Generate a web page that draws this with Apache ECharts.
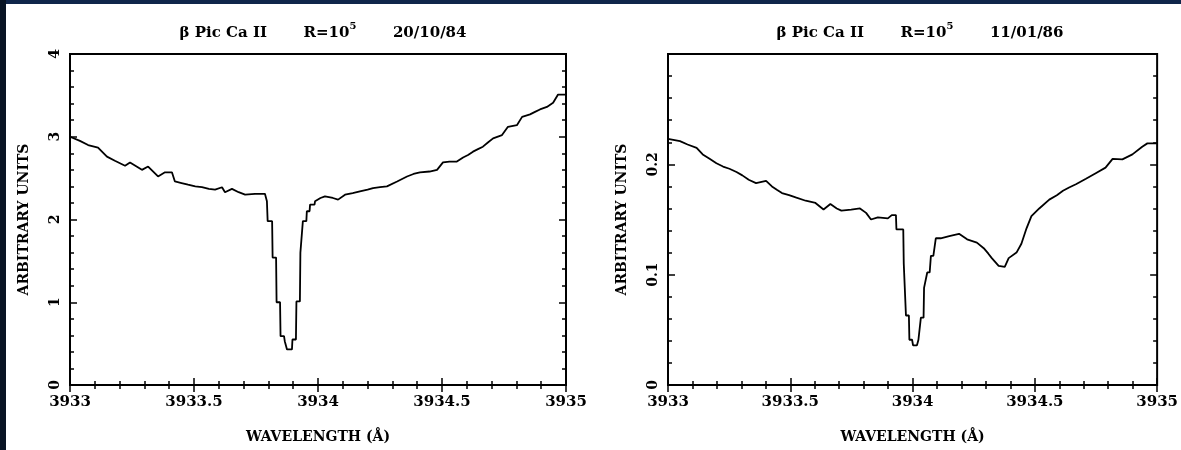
<!DOCTYPE html>
<html>
<head>
<meta charset="utf-8">
<script src="https://cdn.jsdelivr.net/npm/echarts@6/dist/echarts.min.js"></script>
<style>
  html, body { margin: 0; padding: 0; background: #fff; }
  #main { width: 1181px; height: 450px; }
</style>
</head>
<body>
<div id="main"></div>
<script>
// left panel: 20/10/84, vertices
var leftWave = [3933.000, 3933.040, 3933.073, 3933.113, 3933.149, 3933.181, 3933.222, 3933.242, 3933.290, 3933.315,
  3933.355, 3933.383, 3933.411, 3933.423, 3933.450, 3933.476, 3933.505, 3933.532, 3933.560, 3933.585,
  3933.613, 3933.625, 3933.653, 3933.680, 3933.706, 3933.746, 3933.786,
  3933.794, 3933.797, 3933.815, 3933.817, 3933.831, 3933.833, 3933.847, 3933.849, 3933.863,
  3933.866, 3933.872, 3933.875, 3933.895, 3933.897, 3933.911, 3933.913, 3933.927, 3933.929, 3933.937,
  3933.939, 3933.953, 3933.955, 3933.966, 3933.968, 3933.986, 3933.988,
  3934.010, 3934.028, 3934.060, 3934.081, 3934.109, 3934.140, 3934.169, 3934.200, 3934.222, 3934.250,
  3934.278, 3934.319, 3934.359, 3934.385, 3934.411, 3934.450, 3934.480, 3934.504, 3934.530, 3934.560,
  3934.585, 3934.605, 3934.625, 3934.645, 3934.665, 3934.685, 3934.706, 3934.742, 3934.766, 3934.802,
  3934.823, 3934.855, 3934.875, 3934.895, 3934.923, 3934.948, 3934.968, 3935.000];
var leftFlux = [3.00, 2.95, 2.90, 2.87, 2.76, 2.71, 2.65, 2.69, 2.60, 2.64,
  2.52, 2.57, 2.57, 2.46, 2.44, 2.42, 2.40, 2.39, 2.37, 2.36,
  2.39, 2.33, 2.37, 2.33, 2.30, 2.31, 2.31,
  2.22, 1.98, 1.98, 1.54, 1.54, 1.00, 1.00, 0.59, 0.59,
  0.53, 0.53, 0.43, 0.43, 0.55, 0.55, 1.01, 1.01, 1.60, 1.60,
  1.98, 1.98, 2.10, 2.10, 2.18, 2.18, 2.22,
  2.26, 2.28, 2.26, 2.24, 2.30, 2.32, 2.34, 2.36, 2.38, 2.39,
  2.40, 2.46, 2.52, 2.55, 2.57, 2.58, 2.60, 2.69, 2.70, 2.70,
  2.75, 2.78, 2.82, 2.85, 2.88, 2.93, 2.98, 3.02, 3.12, 3.14,
  3.24, 3.27, 3.30, 3.33, 3.36, 3.41, 3.51, 3.51];

// right panel: 11/01/86
var rightWave = [3933.000, 3933.049, 3933.080, 3933.117, 3933.142, 3933.170, 3933.198, 3933.225, 3933.251, 3933.280,
  3933.304, 3933.330, 3933.360, 3933.401, 3933.425, 3933.445, 3933.466, 3933.495, 3933.522, 3933.563,
  3933.603, 3933.636, 3933.664, 3933.690, 3933.709, 3933.749, 3933.785, 3933.810, 3933.830, 3933.858,
  3933.899, 3933.915, 3933.932, 3933.934, 3933.962, 3933.964, 3933.971, 3933.973, 3933.985, 3933.987,
  3933.998, 3934.002, 3934.018, 3934.024, 3934.032, 3934.034, 3934.045, 3934.047, 3934.055, 3934.060,
  3934.070, 3934.075, 3934.085, 3934.095, 3934.115, 3934.150, 3934.190, 3934.223, 3934.263, 3934.291,
  3934.310, 3934.324, 3934.352, 3934.377, 3934.393, 3934.425, 3934.445, 3934.466, 3934.486, 3934.518,
  3934.559, 3934.590, 3934.615, 3934.640, 3934.668, 3934.709, 3934.749, 3934.789, 3934.818, 3934.858,
  3934.899, 3934.939, 3934.960, 3935.000];
var rightFlux = [0.223, 0.221, 0.218, 0.215, 0.209, 0.205, 0.201, 0.198, 0.196, 0.193,
  0.190, 0.186, 0.183, 0.185, 0.180, 0.177, 0.174, 0.172, 0.170, 0.167,
  0.165, 0.159, 0.164, 0.160, 0.158, 0.159, 0.160, 0.156, 0.150, 0.152,
  0.151, 0.154, 0.154, 0.141, 0.141, 0.110, 0.110, 0.063, 0.063, 0.041,
  0.041, 0.036, 0.036, 0.041, 0.041, 0.061, 0.061, 0.088, 0.088, 0.102,
  0.102, 0.117, 0.117, 0.133, 0.133, 0.135, 0.137, 0.132, 0.129, 0.124,
  0.119, 0.115, 0.108, 0.107, 0.115, 0.120, 0.128, 0.142, 0.153, 0.160,
  0.168, 0.172, 0.176, 0.179, 0.182, 0.187, 0.192, 0.197, 0.205, 0.2045,
  0.209, 0.216, 0.219, 0.219];

var titles = ['20/10/84', '11/01/86'];
var xName = 'WAVELENGTH (Å)';
var yName = 'ARBITRARY UNITS';

function pairs(xs, ys) {
  var out = [];
  for (var i = 0; i < xs.length; i++) out.push([xs[i], ys[i]]);
  return out;
}

var font = 'DejaVu Serif';
var myChart = echarts.init(document.getElementById('main'));

function xAxes(gi) {
  var base = {
    type: 'value', gridIndex: gi, min: 3933, max: 3935, interval: 0.5,
    axisLine: { show: false },
    axisTick: { show: true, inside: true, length: 7, lineStyle: { color: '#000', width: 1.5 } },
    minorTick: { show: true, splitNumber: 5, length: 4, lineStyle: { color: '#000', width: 1.5 } },
    splitLine: { show: false }
  };
  var bottom = echarts.util.merge({
    position: 'bottom',
    name: xName, nameLocation: 'middle', nameGap: 45,
    nameTextStyle: { fontFamily: font, fontWeight: 'bold', fontSize: 14, color: '#000' },
    axisLabel: { margin: 10, fontFamily: font, fontWeight: 'bold', fontSize: 15, color: '#000',
      formatter: function (v) { return String(v); } }
  }, base, true);
  var top = echarts.util.merge({ position: 'top', axisLabel: { show: false } }, base, true);
  return [bottom, top];
}

function yAxes(gi, max, interval) {
  var base = {
    type: 'value', gridIndex: gi, min: 0, max: max, interval: interval,
    axisLine: { show: false },
    axisTick: { show: true, inside: true, length: 7, lineStyle: { color: '#000', width: 1.5 } },
    minorTick: { show: true, splitNumber: 5, length: 4, lineStyle: { color: '#000', width: 1.5 } },
    splitLine: { show: false }
  };
  var left = echarts.util.merge({
    position: 'left',
    name: yName, nameLocation: 'middle', nameGap: 39, nameRotate: 90,
    nameTextStyle: { fontFamily: font, fontWeight: 'bold', fontSize: 14, color: '#000' },
    axisLabel: { margin: 8, rotate: 90, fontFamily: font, fontWeight: 'bold', fontSize: 14, color: '#000',
      formatter: function (v) { return v > max - 1e-9 && max < 1 ? '' : String(v); } }
  }, base, true);
  var right = echarts.util.merge({ position: 'right', axisLabel: { show: false } }, base, true);
  return [left, right];
}

var titleStyle = {
  fontFamily: font, fontWeight: 'bold', fontSize: 15, color: '#000',
  rich: { sup: { fontFamily: font, fontWeight: 'bold', fontSize: 10, color: '#000', padding: [0, 0, 15, 0] },
          n: { fontFamily: font, fontWeight: 'bold', fontSize: 15, color: '#000' } }
};

var option = {
  backgroundColor: '#fff',
  animation: false,
  graphic: [
    { type: 'rect', shape: { x: 0, y: 0, width: 1181, height: 4 }, style: { fill: '#10264a' }, z: 100 },
    { type: 'rect', shape: { x: 0, y: 0, width: 6, height: 450 }, style: { fill: '#081424' }, z: 100 }
  ],
  title: [
    { text: '{n|β Pic Ca II       R=10}{sup|5}{n|       ' + titles[0] + '}', left: 318, top: 16, textAlign: 'center', textStyle: titleStyle },
    { text: '{n|β Pic Ca II       R=10}{sup|5}{n|       ' + titles[1] + '}', left: 915, top: 16, textAlign: 'center', textStyle: titleStyle }
  ],
  grid: [
    { left: 70, right: 615, top: 54, bottom: 65, show: true, borderColor: '#000', borderWidth: 2, backgroundColor: 'transparent' },
    { left: 668, right: 19, top: 54, bottom: 65, show: true, borderColor: '#000', borderWidth: 2, backgroundColor: 'transparent' }
  ],
  xAxis: xAxes(0).concat(xAxes(1)),
  yAxis: yAxes(0, 4, 1).concat(yAxes(1, 0.3, 0.1)),
  series: [
    { type: 'line', xAxisIndex: 0, yAxisIndex: 0, symbol: 'none',
      lineStyle: { color: '#000', width: 1.8 }, data: pairs(leftWave, leftFlux) },
    { type: 'line', xAxisIndex: 2, yAxisIndex: 2, symbol: 'none',
      lineStyle: { color: '#000', width: 1.8 }, data: pairs(rightWave, rightFlux) }
  ]
};
myChart.setOption(option);
</script>
</body>
</html>
